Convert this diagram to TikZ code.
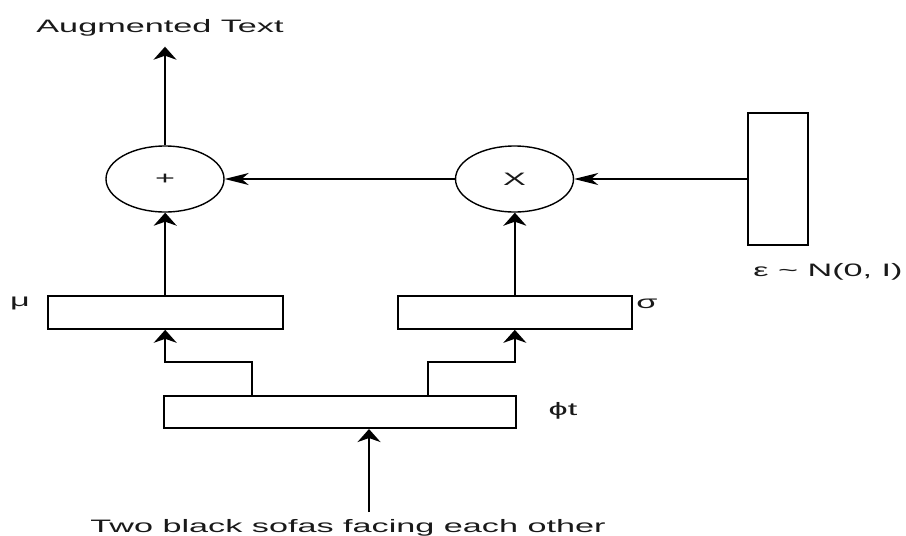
\documentclass[tikz,border=0pt]{standalone}
\usepackage{graphicx}
\usepackage{fontspec}
\setmainfont{Liberation Sans}
\usetikzlibrary{arrows.meta,shapes.geometric}
\newcommand{\wide}[1]{\scalebox{1.9}[1]{#1}}
\begin{document}
\begin{tikzpicture}[x=1pt,y=-1pt,
  line width=1.8pt,
  box/.style={draw,rectangle,inner sep=0pt,line width=1.8pt},
  op/.style={draw,ellipse,inner sep=0pt,minimum width=118pt,minimum height=66pt,line width=1.4pt,font=\fontsize{18}{20}\selectfont,text=black!90},
  lbl/.style={inner sep=0pt,font=\fontsize{18}{20}\selectfont,text=black!90},
  varr/.style={-{Stealth[length=13pt,width=23pt,inset=4pt]}},
  harr/.style={-{Stealth[length=24pt,width=12pt,inset=7pt]}}]
\useasboundingbox (0,0) rectangle (906,536);

\node[op] (plus) at (165,179) {\wide{+}};
\node[op] (times) at (514.5,179) {\wide{X}};
\node[box,minimum width=60pt,minimum height=132pt] (eps) at (778,179) {};
\node[box,minimum width=235pt,minimum height=33pt] (mu) at (165.2,312.4) {};
\node[box,minimum width=234pt,minimum height=33pt] (sigma) at (514.85,312.4) {};
\node[box,minimum width=351.7pt,minimum height=32.3pt] (phi) at (339.85,412) {};

\coordinate (out) at (165,46.7);
\coordinate (src) at (369,512);
\coordinate (e1) at (252,361.7);
\coordinate (e2) at (427.7,361.7);

\draw[varr] (plus.north) -- (out);
\draw[varr] (mu.north) -- (mu.north |- plus.south);
\draw[varr] (sigma.north) -- (sigma.north |- times.south);
\draw[harr] (eps.west) -- (times.east);
\draw[harr] (times.west) -- (plus.east);
\draw[varr] (e1 |- phi.north) -- (e1) -| (mu.south);
\draw[varr] (e2 |- phi.north) -- (e2) -| (sigma.south);
\draw[varr] (src) -- (src |- phi.south);

\node[lbl,anchor=base] (aug) at (160,32) {\wide{Augmented Text}};
\node[lbl,anchor=base] (srclbl) at (348,532) {\wide{Two black sofas facing each other}};
\node[lbl,anchor=base] (mulbl) at (20,306) {\wide{μ}};
\node[lbl,anchor=base] (siglbl) at (647,308) {\wide{σ}};
\node[lbl,anchor=base] (philbl) at (563,415) {\wide{ϕt}};
\node[lbl,anchor=base] (epslbl) at (828,276) {\wide{ε \textasciitilde{} N(0, I)}};
\end{tikzpicture}
\end{document}
